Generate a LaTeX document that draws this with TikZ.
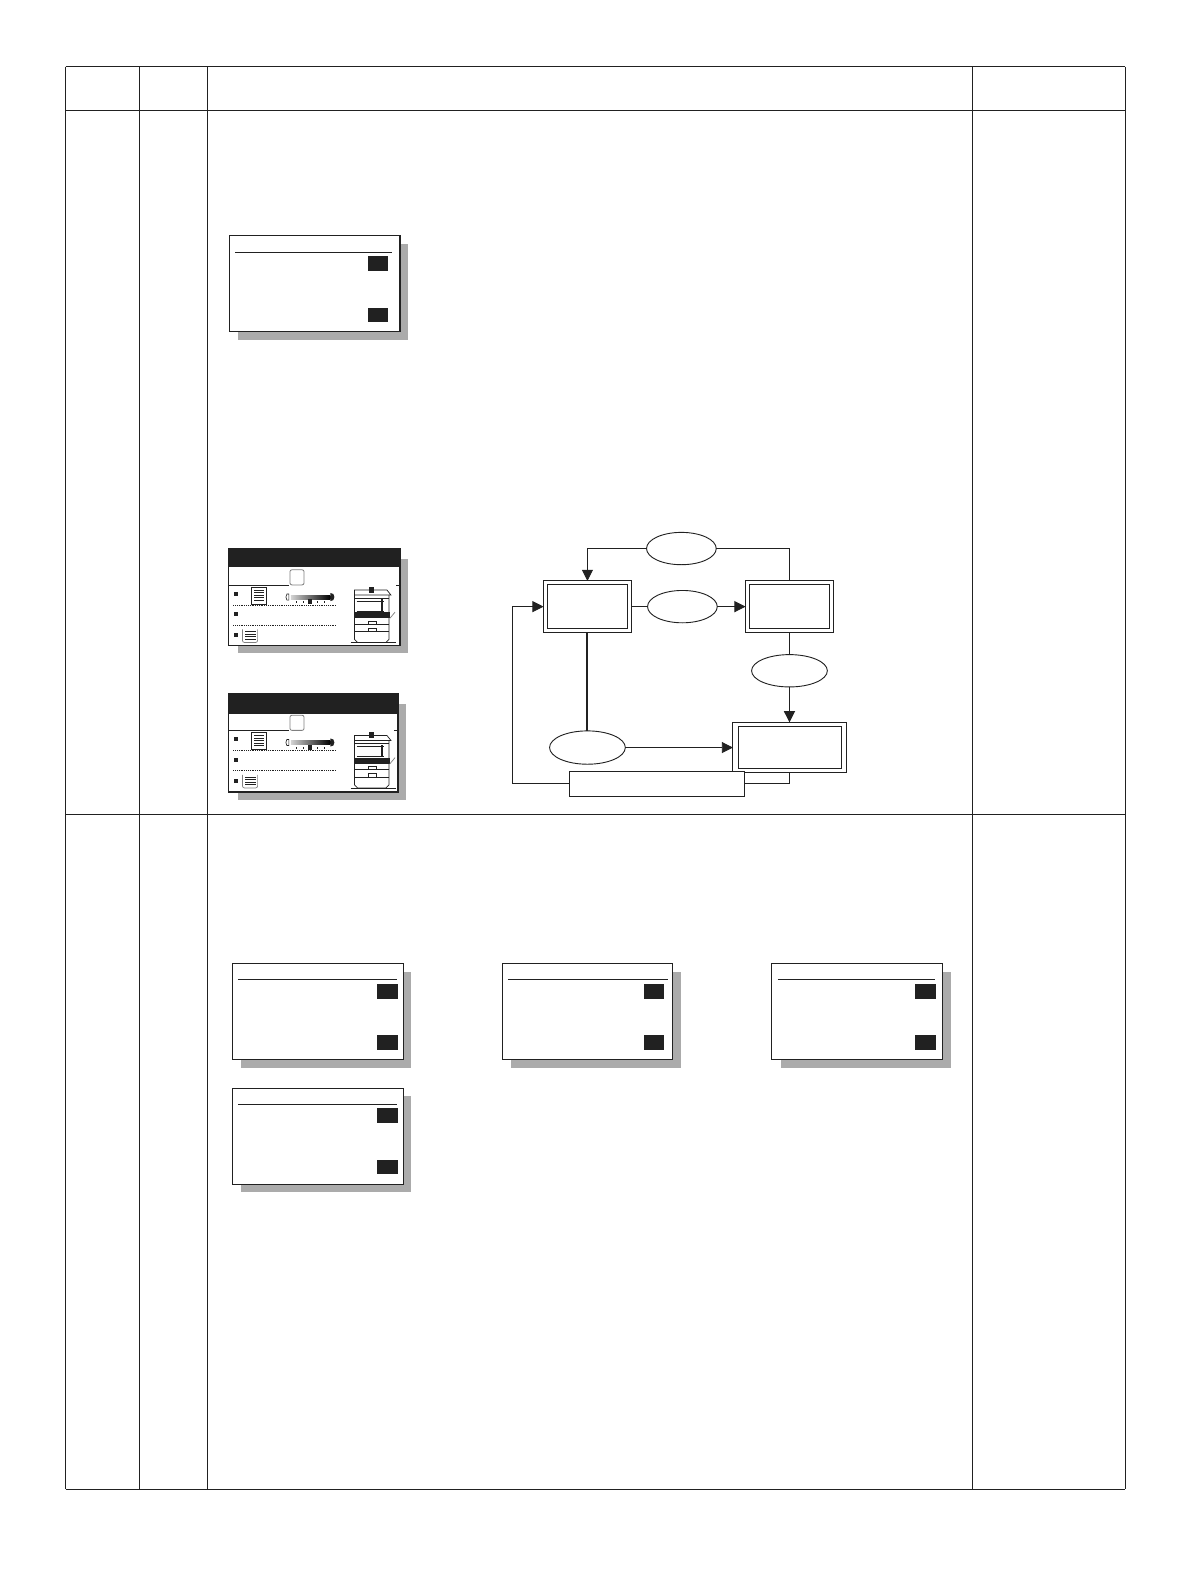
\documentclass[tikz,border=0pt]{standalone}
\usepackage{tikz}
\usetikzlibrary{arrows.meta}
\usetikzlibrary{positioning}
\usetikzlibrary{shapes.geometric}
\definecolor{mshadow}{gray}{0.67}
\definecolor{mdark}{gray}{0.13}
\tikzset{flowbox/.style = {draw=mdark, fill=white, line width=0.9pt, inner sep=0pt, outer sep=0pt},
         flowoval/.style = {draw=mdark, fill=white, ellipse, line width=0.9pt,
                            inner sep=0pt, outer sep=0pt},
         flowline/.style = {draw=mdark, line width=0.9pt},
         flowarrow/.style = {flowline, -{Triangle[length=11pt,width=11pt]}}}
\newcommand{\dialogpanel}[5]{
  \begin{scope}[shift={(#1, #2)}]
    \fill [mshadow] (9, 8) rectangle (177, 103);
    \draw [mdark, fill=white, line width=#3] (0, 0) rectangle (169, 95);
    \draw [mdark, line width=1pt] (6, 16) -- (#5, 16);
    \fill [mdark] (#4, 20) rectangle (#4 + 20.5, 35);
    \fill [mdark] (#4, 71) rectangle (#4 + 20.5, 85);
  \end{scope}
}
\newcommand{\screenpanel}[5]{
  \begin{scope}[shift={(#1, #2)}]
    \fill [mshadow] (10, 10) rectangle (#3 + 8, #5 + 7.5);
    \draw [mdark, fill=white, line width=1.2pt] (0, 0) rectangle (#3, #5);
    \fill [mdark] (0, 0) rectangle (#3, #4);
    \draw [mdark, line width=0.8pt] (1, 36) -- (60, 36) (#3 - 4, 36) -- (#3, 36);
    \draw [gray, fill=white, line width=0.8pt, rounded corners=2pt] (61, 21) rectangle (75, 36);
    \foreach \y in {45, 65, 86} {
      \fill [mdark] (6, \y - 2) rectangle (10, \y + 2);
    }
    \draw [mdark, densely dotted, line width=0.8pt] (5, 56) -- (107, 56);
    \draw [mdark, densely dotted, line width=0.8pt] (5, 76) -- (107, 76);
    \draw [mdark, line width=0.8pt] (23, 38) rectangle (38, 55);
    \foreach \y in {41, 43.5, 46, 48.5, 51} {
      \draw [mdark, line width=0.7pt] (25.5, \y) -- (35.5, \y);
    }
    \draw [gray, line width=0.7pt, rounded corners=2pt] (14, 80) -- (14, 93) -- (29, 93) -- (29, 80);
    \foreach \y in {82, 84.5, 87, 89.5} {
      \draw [mdark, line width=0.7pt] (17, \y) -- (27, \y);
    }
    \draw [mdark, line width=0.6pt] (58, 45) -- (57, 48) -- (58, 51) -- (60, 51) -- (60, 45) -- cycle;
    \shade [left color=gray!35, right color=black] (62, 46) rectangle (101, 50);
    \fill [mdark] (101, 44) -- (104, 45) -- (105, 48) -- (104, 51) -- (101, 52) -- cycle;
    \fill [mdark] (79, 50) rectangle (83, 55);
    \foreach \x in {67, 74, 88, 95} {
      \fill [mdark] (\x, 52) rectangle (\x + 1, 54);
    }
    \draw [mdark, line width=0.7pt] (125, 46) -- (125, 41) -- (157, 41) -- (161, 46) -- cycle;
    \fill [mdark] (139, 38) rectangle (144, 44);
    \draw [mdark, line width=0.7pt] (125, 46) -- (125, 90) -- (128, 93) -- (156, 93) -- (159, 90) -- (159, 46);
    \draw [mdark, line width=0.7pt] (125, 49) -- (159, 49);
    \draw [mdark, line width=0.7pt] (127, 52) -- (154, 52) (127, 62) -- (145, 62) -- (154, 62);
    \fill [mdark] (151, 50) rectangle (153, 62);
    \fill [mdark] (125, 63) rectangle (160, 69);
    \draw [mdark, line width=0.7pt] (125, 75) -- (159, 75) (125, 82) -- (159, 82);
    \draw [mdark, line width=0.7pt] (139, 72) rectangle (147, 75);
    \draw [mdark, line width=0.7pt] (139, 79) rectangle (147, 82);
    \draw [gray, line width=0.7pt] (160, 69) -- (165, 63);
    \draw [mdark, line width=0.8pt] (121, 93) -- (166, 93);
  \end{scope}
}

\begin{document}
\begin{tikzpicture}[x=1pt, y=-1pt]
    \useasboundingbox (0, 0) rectangle (1179, 1568);

    \foreach \x in {65, 138, 205, 963, 1114} {
      \draw [mdark, line width=1pt] (\x, 66) -- (\x, 1474);
    }
    \foreach \y in {66, 109, 806, 1474} {
      \draw [mdark, line width=1pt] (65, \y) -- (1114, \y);
    }

    \dialogpanel{227}{233.5}{1.1pt}{137}{161}
    \dialogpanel{230}{954}{0.9pt}{143}{163}
    \dialogpanel{497}{954}{0.9pt}{140}{164}
    \dialogpanel{764}{954}{0.9pt}{142}{162}
    \dialogpanel{230}{1077}{0.9pt}{143}{163}

    \screenpanel{226}{543}{170}{18}{96}
    \screenpanel{226}{687}{168}{20}{97}

    \node [flowbox, minimum width=87pt, minimum height=51pt] (boxLeft) at (581.5, 600.5) {};
    \node [flowbox, minimum width=79pt, minimum height=43pt] (boxLeftIn) at (boxLeft.center) {};
    \node [flowbox, minimum width=87pt, minimum height=51pt] (boxRight) at (781.5, 600.5) {};
    \node [flowbox, minimum width=79pt, minimum height=43pt] (boxRightIn) at (boxRight.center) {};
    \node [flowbox, minimum width=112pt, minimum height=50pt] (boxResult) at (781.5, 740) {};
    \node [flowbox, minimum width=102pt, minimum height=42pt] (boxResultIn) at (boxResult.center) {};
    \node [flowbox, minimum width=173pt, minimum height=24pt] (boxWide) at (650.5, 776) {};

    \node [flowoval, minimum width=69pt, minimum height=32pt] (ovalTop) at (674.5, 543) {};
    \node [flowoval, minimum width=69pt, minimum height=32pt] (ovalMid) at (675.5, 600.5) {};
    \node [flowoval, minimum width=75pt, minimum height=32pt] (ovalRight) at (781.5, 664) {};
    \node [flowoval, minimum width=75pt, minimum height=33pt] (ovalLeft) at (581.5, 740) {};
    \coordinate (returnCorner) at (507, 776);

    \draw [flowline] (ovalTop.east) -| (boxRight.north);
    \draw [mdark, line width=1.8pt] (ovalTop.east -| boxRight.north) -- (boxRight.north);
    \draw [flowarrow] (ovalTop.west) -| (boxLeft.north);
    \draw [flowline] (boxLeft.east) -- (ovalMid.west);
    \draw [flowarrow] (ovalMid.east) -- (boxRight.west);
    \draw [flowline] (boxRight.south) -- (ovalRight.north);
    \draw [flowarrow] (ovalRight.south) -- (boxResult.north);
    \draw [mdark, line width=2pt] (boxLeft.south) -- (ovalLeft.north);
    \draw [flowarrow] (ovalLeft.east) -- (boxResult.west);
    \draw [flowarrow] (boxWide.west) -- (returnCorner) |- (boxLeft.west);
    \draw [flowline] (boxResult.south) |- (boxWide.east);
  \end{tikzpicture}
\end{document}
